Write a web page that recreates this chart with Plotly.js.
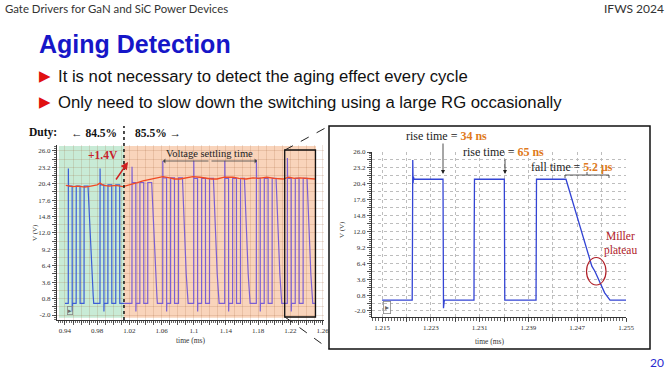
<!DOCTYPE html>
<html><head><meta charset="utf-8">
<script src="https://cdn.plot.ly/plotly-3.0.1.min.js"></script>
<style>html,body{margin:0;padding:0;background:#fff;overflow:hidden}#chart{width:668px;height:371px}</style>
</head><body><div id="chart"></div>
<script>
// ---------- DATA ----------
// Left overview: gate voltage (V) vs time (ms), duty 84.5% part (green) and 85.5% part (orange)
const greenT = [0.9400, 0.9441, 0.9442, 0.9444, 0.9489, 0.9490, 0.9492, 0.9539, 0.9540, 0.9587, 0.9588, 0.9637, 0.9638, 0.9686, 0.9724, 0.9733, 0.9751, 0.9757,
  0.9835, 0.9836, 0.9838, 0.9883, 0.9884, 0.9886, 0.9933, 0.9934, 0.9981, 0.9982, 1.0031, 1.0032, 1.0080, 1.0081, 1.0133];
const greenV = [0, 0, 23.0, 20.0, 20.0, -1.4, 0, 0, 20.0, 20.0, 0, 0, 20.0, 20.0, 7.4, 5.0, 1.2, 0,
  0, 23.0, 20.2, 20.2, -1.4, 0, 0, 20.2, 20.2, 0, 0, 20.2, 20.2, 0, 0];
const orangeT = [1.0133,
  1.0232, 1.0233, 1.0235, 1.0280, 1.0281, 1.0283, 1.0330, 1.0331, 1.0378, 1.0379, 1.0428, 1.0429, 1.0477, 1.0515, 1.0524, 1.0542, 1.0548,
  1.0614, 1.0615, 1.0617, 1.0662, 1.0663, 1.0665, 1.0712, 1.0713, 1.0760, 1.0761, 1.0810, 1.0811, 1.0859, 1.0897, 1.0906, 1.0924, 1.0930,
  1.0999, 1.1000, 1.1002, 1.1047, 1.1048, 1.1050, 1.1097, 1.1098, 1.1145, 1.1146, 1.1195, 1.1196, 1.1244, 1.1282, 1.1291, 1.1309, 1.1315,
  1.1384, 1.1385, 1.1387, 1.1432, 1.1433, 1.1435, 1.1482, 1.1483, 1.1530, 1.1531, 1.1580, 1.1581, 1.1629, 1.1667, 1.1676, 1.1694, 1.1700,
  1.1777, 1.1778, 1.1780, 1.1825, 1.1826, 1.1828, 1.1875, 1.1876, 1.1923, 1.1924, 1.1973, 1.1974, 1.2022, 1.2060, 1.2069, 1.2087, 1.2093,
  1.2162, 1.2163, 1.2165, 1.2210, 1.2211, 1.2213, 1.2260, 1.2261, 1.2308, 1.2309, 1.2358, 1.2359, 1.2407, 1.2445, 1.2454, 1.2472, 1.2478,
  1.2515];
const orangeV = [0,
  0, 23.3, 20.6, 20.6, -1.4, 0, 0, 20.6, 20.6, 0, 0, 20.6, 20.6, 7.4, 5.0, 1.2, 0,
  0, 24.3, 21.4, 21.4, -1.4, 0, 0, 21.4, 21.4, 0, 0, 21.4, 21.4, 7.4, 5.0, 1.2, 0,
  0, 24.3, 21.3, 21.3, -1.4, 0, 0, 21.3, 21.3, 0, 0, 21.3, 21.3, 7.4, 5.0, 1.2, 0,
  0, 24.3, 21.3, 21.3, -1.4, 0, 0, 21.3, 21.3, 0, 0, 21.3, 21.3, 7.4, 5.0, 1.2, 0,
  0, 24.5, 21.3, 21.3, -1.4, 0, 0, 21.3, 21.3, 0, 0, 21.3, 21.3, 7.4, 5.0, 1.2, 0,
  0, 24.8, 21.3, 21.3, -1.4, 0, 0, 21.3, 21.3, 0, 0, 21.3, 21.3, 7.4, 5.0, 1.2, 0,
  0];
// Supply (red) level
const redT = [0.9410, 0.9450, 0.9500, 0.9560, 0.9648, 0.9720, 0.9800, 0.9835, 0.9880, 0.9950, 1.0030, 1.0120, 1.0180, 1.0245, 1.0300, 1.0369,
  1.0450, 1.0530, 1.0617, 1.0700, 1.0760, 1.0829, 1.0900, 1.0990, 1.1077, 1.1150, 1.1220, 1.1288, 1.1380, 1.1487, 1.1560, 1.1650,
  1.1735, 1.1800, 1.1909, 1.2000, 1.2108, 1.2180, 1.2250, 1.2319, 1.2400, 1.2506];
const redV = [20.1, 20.0, 19.9, 20.0, 19.8, 20.0, 20.2, 20.5, 20.1, 20.0, 20.1, 19.9, 20.1, 20.4, 20.6, 20.9,
  21.1, 21.3, 21.6, 21.4, 21.2, 21.2, 21.4, 21.6, 21.5, 21.3, 21.2, 21.2, 21.5, 21.5, 21.3, 21.2,
  21.4, 21.3, 21.5, 21.3, 21.2, 21.5, 21.3, 21.4, 21.3, 21.2];
// Right zoom: 1.215 - 1.255 ms
const zoomT = [1.2150, 1.21995, 1.22000, 1.22004, 1.22010, 1.22016, 1.22024, 1.22500, 1.22503, 1.22508, 1.22512, 1.22517, 1.22524,
  1.23008, 1.23011, 1.23016, 1.23505, 1.23508, 1.23513, 1.24025, 1.24028, 1.24033, 1.24516, 1.24900, 1.24940, 1.24990, 1.25060,
  1.25150, 1.25238, 1.25500];
const zoomV = [-0.1, -0.1, 11.0, 24.6, 20.5, 21.6, 21.2, 21.2, 15.8, -1.5, 0.5, -0.5, -0.1,
  -0.1, 11.0, 21.2, 21.2, 12.3, -0.1, -0.1, 13.5, 21.2, 21.2, 7.4, 5.9, 5.0, 3.2,
  1.2, -0.1, -0.1];
const dutyBoundary = 1.0133;
const dataStart = 0.9326, dataEnd = 1.2518;

// Tick labels
const leftXTickVals = [0.94, 0.98, 1.02, 1.06, 1.10, 1.14, 1.18, 1.22, 1.26];
const leftXTickText = ['0.94', '0.98', '1.02', '1.06', '1.1', '1.14', '1.18', '1.22', '1.26'];
const vTickVals = [26.0, 23.2, 20.4, 17.6, 14.8, 12.0, 9.2, 6.4, 3.6, 0.8, -2.0];
const vTickText = ['26.0', '23.2', '20.4', '17.6', '14.8', '12.0', '9.2', '6.4', '3.6', '0.8', '-2.0'];
const rightXTickVals = [1.215, 1.223, 1.231, 1.239, 1.247, 1.255];
const rightXTickText = ['1.215', '1.223', '1.231', '1.239', '1.247', '1.255'];

// Texts
const headerLeft = 'Gate Drivers for GaN and SiC Power Devices';
const headerRight = 'IFWS 2024';
const slideTitle = 'Aging Detection';
const bullets = ['It is not necessary to detect the aging effect every cycle',
                 'Only need to slow down the switching using a large RG occasionally'];
const dutyLabels = ['Duty:', '\u2190 84.5%', '85.5% \u2192'];
const pageNo = '20';

// ---------- HELPERS ----------
const W = 668, H = 371;
const X = px => px / W;
const Y = py => 1 - py / H;
function gridTicks(labVals, labText, start, step, count) {
  const vals = [], text = [];
  for (let i = 0; i < count; i++) {
    const v = +(start + i * step).toFixed(6);
    vals.push(v);
    const j = labVals.findIndex(u => Math.abs(u - v) < step / 10);
    text.push(j >= 0 ? labText[j] : '');
  }
  return {vals, text};
}
const lx = gridTicks(leftXTickVals, leftXTickText, 0.94, 0.01, 33);
const ly = gridTicks(vTickVals, vTickText, -2.0, 1.4, 21);
const rx = gridTicks(rightXTickVals, rightXTickText, 1.215, 0.004, 11);
const ry = gridTicks(vTickVals, vTickText, -2.0, 1.4, 21);

const serif = 'Liberation Serif, Times New Roman, serif';
const sans = 'Liberation Sans, Arial, sans-serif';
function axisBase() {
  return {showline: true, linecolor: '#333', linewidth: 1, ticks: 'outside', ticklen: 4, tickwidth: 0.8, tickcolor: '#333',
    tickfont: {family: serif, size: 7, color: '#333'}, zeroline: false, fixedrange: true, tickmode: 'array', showgrid: true};
}

// ---------- TRACES ----------
const traces = [
  {x: greenT, y: greenV, xaxis: 'x', yaxis: 'y', mode: 'lines', line: {color: '#3d5ed6', width: 1.2}, hoverinfo: 'skip'},
  {x: orangeT, y: orangeV, xaxis: 'x', yaxis: 'y', mode: 'lines', line: {color: '#7b5fd3', width: 1.2}, hoverinfo: 'skip'},
  {x: redT, y: redV, xaxis: 'x', yaxis: 'y', mode: 'lines', line: {color: '#f04a24', width: 1.3}, hoverinfo: 'skip'},
  {x: zoomT, y: zoomV, xaxis: 'x2', yaxis: 'y2', mode: 'lines', line: {color: '#3344d4', width: 1.3}, hoverinfo: 'skip'}
];

// ---------- ANNOTATIONS ----------
function A(text, x, y, o) {
  return Object.assign({text: text, xref: 'paper', yref: 'paper', x: X(x), y: Y(y), showarrow: false,
    xanchor: 'center', yanchor: 'middle', font: {family: serif, size: 10, color: '#222'}}, o || {});
}
function arrow(tx, ty, fx, fy, color, w, head) {
  return {text: '', xref: 'paper', yref: 'paper', x: X(tx), y: Y(ty), axref: 'pixel', ayref: 'pixel',
    ax: fx - tx, ay: fy - ty, showarrow: true, arrowcolor: color, arrowwidth: w, arrowhead: head, arrowsize: 1};
}
const annotations = [
  A(headerLeft, 3, 8, {xanchor: 'left', font: {family: 'Lato, sans-serif', size: 11.4, color: '#333'}}),
  A(headerRight, 666, 8, {xanchor: 'right', font: {family: 'Lato, sans-serif', size: 12, color: '#333'}}),
  A('<b>' + slideTitle + '</b>', 37, 44, {xanchor: 'left', font: {family: sans, size: 25, color: '#1616c8'}}),
  A('\u25B6', 45, 76, {font: {family: 'DejaVu Sans', size: 15, color: '#e01010'}}),
  A(bullets[0], 56, 76, {xanchor: 'left', font: {family: sans, size: 16.7, color: '#111'}}),
  A('\u25B6', 45, 102, {font: {family: 'DejaVu Sans', size: 15, color: '#e01010'}}),
  A(bullets[1], 56, 102, {xanchor: 'left', font: {family: sans, size: 16.7, color: '#111'}}),
  A('<b>' + dutyLabels[0] + '</b>', 27, 133, {xanchor: 'left', font: {family: serif, size: 11.5, color: '#111'}}),
  A('<b>' + dutyLabels[1] + '</b>', 69, 133, {xanchor: 'left', font: {family: serif, size: 11.5, color: '#111'}}),
  A('<b>' + dutyLabels[2] + '</b>', 133, 133, {xanchor: 'left', font: {family: serif, size: 11.5, color: '#111'}}),
  A('<b>+1.4V</b>', 103, 155, {font: {family: serif, size: 11.5, color: '#c8202a'}}),
  arrow(128, 162, 115, 181, '#d02020', 1.5, 2),
  A('Voltage settling time', 209, 153, {font: {family: serif, size: 10.5, color: '#222'}}),
  arrow(163, 161, 210, 161, '#444', 0.8, 1),
  arrow(257, 161, 210, 161, '#444', 0.8, 1),
  A('V (V)', 35, 233, {textangle: -90, font: {family: serif, size: 7, color: '#333'}}),
  A('time (ms)', 190, 340, {font: {family: serif, size: 7.5, color: '#333'}}),
  A('\u25B8', 70, 310, {font: {family: sans, size: 7, color: '#666'}, bordercolor: '#888', borderwidth: 0.8, borderpad: 0}),
  // right
  A('rise time = <b><span style="color:#e07a20">34 ns</span></b>', 446, 136, {font: {family: serif, size: 12, color: '#222'}}),
  arrow(443, 174, 443, 142, '#222', 0.8, 2),
  A('rise time = <b><span style="color:#e07a20">65 ns</span></b>', 504, 152, {font: {family: serif, size: 12, color: '#222'}}),
  arrow(505, 174, 505, 158, '#222', 0.8, 2),
  A('fall time = <b><span style="color:#e07a20">5.2 \u00B5s</span></b>', 572, 167, {font: {family: serif, size: 11.8, color: '#222'}}),
  A('Miller', 620, 236, {font: {family: serif, size: 11.5, color: '#b02028'}}),
  A('plateau', 620, 250, {font: {family: serif, size: 11.5, color: '#b02028'}}),
  A('V (V)', 342, 230, {textangle: -90, font: {family: serif, size: 7, color: '#333'}}),
  A('time (ms)', 490, 341, {font: {family: serif, size: 7.5, color: '#333'}}),
  A('\u25B8', 387, 307, {font: {family: sans, size: 8, color: '#666'}, bordercolor: '#888', borderwidth: 0.8, borderpad: 1}),
  A(pageNo, 657, 362, {font: {family: 'Lato, sans-serif', size: 12, color: '#2a2ad0'}})
];

// ---------- SHAPES ----------
const shapes = [
  {type: 'rect', xref: 'x', yref: 'y', x0: dataStart, x1: dutyBoundary, y0: -2.45, y1: 26.85, fillcolor: '#c8ebd6', line: {width: 0}, layer: 'below'},
  {type: 'rect', xref: 'x', yref: 'y', x0: dutyBoundary, x1: dataEnd, y0: -2.45, y1: 26.85, fillcolor: '#f9d4bb', line: {width: 0}, layer: 'below'},
  {type: 'line', xref: 'x', yref: 'paper', x0: dutyBoundary, x1: dutyBoundary, y0: Y(320), y1: Y(126), line: {color: '#111', width: 1.5, dash: 'dot'}},
  {type: 'rect', xref: 'paper', yref: 'paper', x0: X(284.7), x1: X(315.5), y0: Y(317), y1: Y(150), line: {color: '#111', width: 1.3}},
  {type: 'line', xref: 'paper', yref: 'paper', x0: X(285), y0: Y(150), x1: X(329), y1: Y(126), line: {color: '#222', width: 1, dash: 'dash'}},
  {type: 'line', xref: 'paper', yref: 'paper', x0: X(285), y0: Y(317), x1: X(329), y1: Y(349), line: {color: '#222', width: 1, dash: 'dash'}},
  {type: 'rect', xref: 'paper', yref: 'paper', x0: X(329), x1: X(650), y0: Y(349), y1: Y(126), line: {color: '#111', width: 1.5}},
  {type: 'path', xref: 'paper', yref: 'paper',
    path: 'M ' + X(565) + ' ' + Y(178) + ' L ' + X(565) + ' ' + Y(175) + ' L ' + X(609) + ' ' + Y(175) + ' L ' + X(609) + ' ' + Y(178) +
          ' M ' + X(587) + ' ' + Y(175) + ' L ' + X(587) + ' ' + Y(172),
    line: {color: '#333', width: 0.8}},
  {type: 'circle', xref: 'paper', yref: 'paper', x0: X(586.5), x1: X(606), y0: Y(285), y1: Y(257.5), line: {color: '#b02028', width: 1.2}}
];

const layout = {
  width: W, height: H, margin: {l: 0, r: 0, t: 0, b: 0}, paper_bgcolor: '#fff', plot_bgcolor: 'rgba(0,0,0,0)', showlegend: false,
  xaxis: Object.assign(axisBase(), {domain: [X(57), X(324.2)], range: [0.9301, 1.262], anchor: 'y', tickvals: lx.vals, ticktext: lx.text,
    gridcolor: 'rgba(150,80,40,0.16)', minor: {tickmode: 'linear', tick0: 0.94, dtick: 0.0025, ticks: 'outside', ticklen: 2, tickcolor: '#444', showgrid: false}}),
  yaxis: Object.assign(axisBase(), {domain: [Y(320), Y(145)], range: [-2.85, 27.0], anchor: 'x', tickvals: ly.vals, ticktext: ly.text,
    gridcolor: 'rgba(150,80,40,0.16)', minor: {tickmode: 'linear', tick0: -2.0, dtick: 0.35, ticks: 'outside', ticklen: 2, tickcolor: '#444', showgrid: false}}),
  xaxis2: Object.assign(axisBase(), {domain: [X(372), X(626)], range: [1.21336, 1.255], anchor: 'y2', tickvals: rx.vals, ticktext: rx.text,
    gridcolor: '#bdbdbd', griddash: 'dot', minor: {tickmode: 'linear', tick0: 1.215, dtick: 0.0005, ticks: 'outside', ticklen: 3, tickcolor: '#444', showgrid: false}}),
  yaxis2: Object.assign(axisBase(), {domain: [Y(317), Y(152)], range: [-3.06, 26], anchor: 'x2', tickvals: ry.vals, ticktext: ry.text,
    gridcolor: '#bdbdbd', griddash: 'dot', minor: {tickmode: 'linear', tick0: -2.0, dtick: 0.35, ticks: 'outside', ticklen: 2, tickcolor: '#444', showgrid: false}}),
  annotations: annotations, shapes: shapes
};
Plotly.newPlot('chart', traces, layout, {staticPlot: true, displayModeBar: false});
</script></body></html>
